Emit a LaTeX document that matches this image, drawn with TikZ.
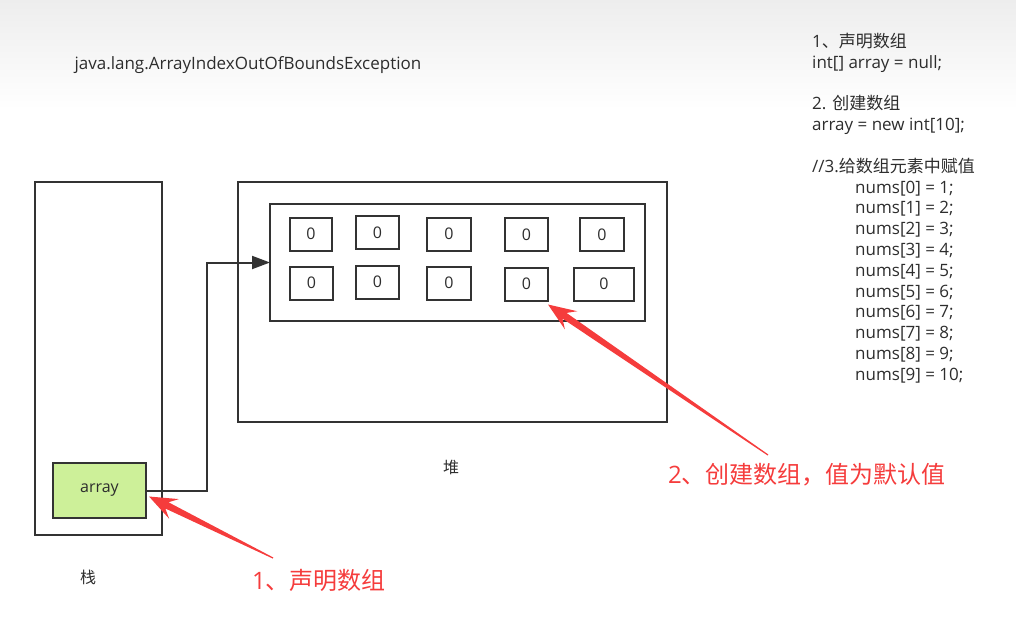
\documentclass[tikz,border=0pt]{standalone}
\usepackage{fontspec}
\setmainfont{Open Sans}
\newfontfamily\cjk{Noto Sans CJK SC}
\usepackage{tikz}
\usetikzlibrary{positioning, arrows.meta, calc}

\definecolor{boxline}{RGB}{51,51,51}
\definecolor{vargreen}{RGB}{205,240,153}
\definecolor{notered}{RGB}{245,60,60}
\definecolor{codegray}{RGB}{45,45,45}

% tapered red pointer: #1 = tail, #2 = tip
\newcommand{\redarrow}[2]{%
  \coordinate (hb) at ($(#2)!20pt!(#1)$);
  \coordinate (hw) at ($(#2)!28pt!(#1)$);
  \fill[notered] ($(#1)!0.6pt!90:(#2)$) -- ($(hb)!3.5pt!90:(#2)$) -- ($(hw)!11pt!90:(#2)$) -- (#2)
    -- ($(hw)!11pt!-90:(#2)$) -- ($(hb)!3.5pt!-90:(#2)$) -- ($(#1)!0.6pt!-90:(#2)$) -- cycle;
}

\begin{document}
\begin{tikzpicture}[
    x=1pt, y=-1pt,
    area/.style={draw=boxline, line width=2pt, inner sep=0pt, outer sep=0pt},
    cell/.style={area, minimum height=33pt, font=\fontsize{16}{16}\selectfont, text=codegray},
    conn/.style={draw=boxline, line width=2pt, -{Triangle[length=18pt, width=13pt]}},
    note/.style={text=notered, font=\fontsize{24}{24}\selectfont},
    caption/.style={font=\cjk\fontsize{16}{16}\selectfont, text=codegray}
]

\useasboundingbox (0,0) rectangle (1016,616);
\shade[top color=black!7, bottom color=white] (0,0) rectangle (1016,110);

% Stack
\node[area, minimum width=127pt, minimum height=353pt] (stack) at (98.5,358.5) {};
\node[area, fill=vargreen, minimum width=93pt, minimum height=55pt, font=\fontsize{16}{16}\selectfont, text=codegray] (arr) at (99.5,490.5) {array};
\node[caption] (stacklbl) at (88,577) {栈};

% Heap
\node[area, minimum width=429pt, minimum height=240pt] (heap) at (452.5,302) {};
\node[area, minimum width=375pt, minimum height=117pt] (inner) at (457.5,262.5) {};
\node[caption] (heaplbl) at (451,467) {堆};

% Array cells
\foreach \name/\cx/\cy/\w in {c1/311/234/42, c2/377.5/232.5/43, c3/449/234/44, c4/526.5/234.5/43, c5/602/234.5/44,
                              c6/311.5/283/43, c7/377.5/282/43, c8/449/283/44, c9/526.5/284/43, c10/604/284/60}
    \node[cell, minimum width=\w pt] (\name) at (\cx,\cy) {0};

% Reference
\draw[conn] (arr.east) -- ++(61,0) |- (inner.west);

% Texts
\node[anchor=west, font=\fontsize{17}{17}\selectfont, text=codegray] (exc) at (71,65) {java.lang.ArrayIndexOutOfBoundsException};

\node[anchor=north west, align=left, inner sep=0pt, font=\fontsize{17}{20.8}\selectfont, text=codegray] (code) at (812,33) {%
1{\cjk 、声明数组}\\
int[] array = null;\\[20.8pt]
2. {\cjk 创建数组}\\
array = new int[10];\\[20.8pt]
//3.{\cjk 给数组元素中赋值}\\
\hspace*{43pt}nums[0] = 1;\\
\hspace*{43pt}nums[1] = 2;\\
\hspace*{43pt}nums[2] = 3;\\
\hspace*{43pt}nums[3] = 4;\\
\hspace*{43pt}nums[4] = 5;\\
\hspace*{43pt}nums[5] = 6;\\
\hspace*{43pt}nums[6] = 7;\\
\hspace*{43pt}nums[7] = 8;\\
\hspace*{43pt}nums[8] = 9;\\
\hspace*{43pt}nums[9] = 10;};

% Red notes
\node[note] (note1) at (319,580) {1{\cjk 、声明数组}};
\node[note] (note2) at (807,475) {2{\cjk 、创建数组，值为默认值}};

\coordinate (tail1) at (273,558);
\coordinate (tip1) at ($(arr.east)+(3,6)$);
\coordinate (tail2) at (768,455);
\coordinate (tip2) at ($(c9.south east)+(0,4)$);
\redarrow{tail1}{tip1}
\redarrow{tail2}{tip2}

\end{tikzpicture}
\end{document}
